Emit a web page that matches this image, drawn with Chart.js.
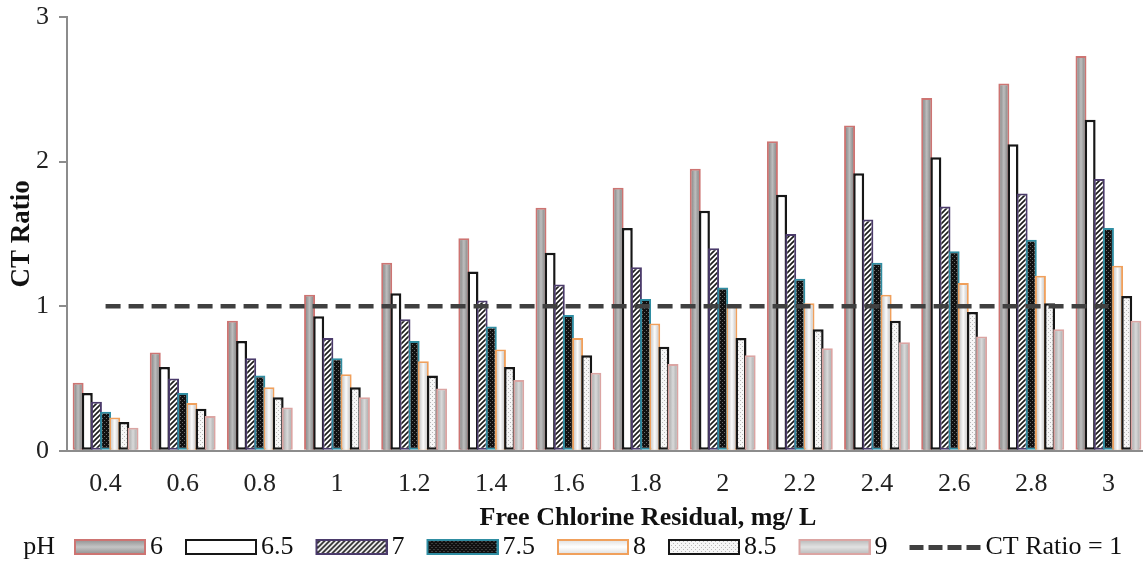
<!DOCTYPE html>
<html>
<head>
<meta charset="utf-8">
<script src="https://cdn.jsdelivr.net/npm/chart.js@4.4.0/dist/chart.umd.min.js"></script>
<style>
  html, body { margin: 0; padding: 0; background: #fff; overflow: hidden; }
  #wrap { width: 1147px; height: 566px; }
</style>
</head>
<body>
<div id="wrap"><canvas id="ctChart"></canvas></div>
<script>
// free chlorine residual, mg/L
const chlorine = ['0.4', '0.6', '0.8', '1', '1.2', '1.4', '1.6', '1.8', '2', '2.2', '2.4', '2.6', '2.8', '3'];

// CT ratio per pH
const ph6  = [0.47, 0.68, 0.90, 1.08, 1.30, 1.47, 1.68, 1.82, 1.95, 2.14, 2.25, 2.44, 2.54, 2.73];
const ph65 = [0.40, 0.58, 0.76, 0.93, 1.09, 1.24, 1.37, 1.54, 1.66, 1.77, 1.92, 2.03, 2.12, 2.29];
const ph7  = [0.34, 0.50, 0.64, 0.78, 0.91, 1.04, 1.15, 1.27, 1.40, 1.50, 1.60, 1.69, 1.78, 1.88];
const ph75 = [0.27, 0.40, 0.52, 0.64, 0.76, 0.86, 0.94, 1.05, 1.13, 1.19, 1.30, 1.38, 1.46, 1.54];
const ph8  = [0.23, 0.33, 0.44, 0.53, 0.62, 0.70, 0.78, 0.88, 1.00, 1.02, 1.08, 1.16, 1.21, 1.28];
const ph85 = [0.20, 0.29, 0.37, 0.44, 0.52, 0.58, 0.66, 0.72, 0.78, 0.84, 0.90, 0.96, 1.02, 1.07];
const ph9  = [0.16, 0.24, 0.30, 0.37, 0.43, 0.49, 0.54, 0.60, 0.66, 0.71, 0.75, 0.79, 0.84, 0.90];

// reference line
const ctLimit = [1, 1, 1, 1, 1, 1, 1, 1, 1, 1, 1, 1, 1, 1];

const yTicks = [0, 1, 2, 3];

const SERIF = "'Liberation Serif', 'Times New Roman', serif";
const FONT_SIZE = 26;

// small canvas patterns for the textured bars
function makePattern(size, draw) {
  const c = document.createElement('canvas');
  c.width = c.height = size;
  const g = c.getContext('2d');
  draw(g, size);
  return g.createPattern(c, 'repeat');
}

const hatch = makePattern(5, (g, s) => {
  g.fillStyle = '#ffffff';
  g.fillRect(0, 0, s, s);
  g.strokeStyle = '#1e1e1e';
  g.lineWidth = 1.7;
  g.beginPath();
  g.moveTo(0, s); g.lineTo(s, 0);
  g.moveTo(-s, s); g.lineTo(s, -s);
  g.moveTo(0, 2 * s); g.lineTo(2 * s, 0);
  g.stroke();
});

const darkDots = makePattern(4, (g, s) => {
  g.fillStyle = '#111111';
  g.fillRect(0, 0, s, s);
  g.fillStyle = '#6a6a6a';
  g.fillRect(0, 0, 1, 1);
  g.fillRect(2, 2, 1, 1);
});

const lightDots = makePattern(4, (g, s) => {
  g.fillStyle = '#f6f6f6';
  g.fillRect(0, 0, s, s);
  g.fillStyle = '#b8b8b8';
  g.fillRect(0, 0, 1, 1);
  g.fillRect(2, 2, 1, 1);
});

// lighter centre stripe on the plain grey bars (edge, centre)
const bevelShades = {
  0: ['#8f8f8f', '#bdbdbd'],
  4: ['#cfcfcf', '#fbfbfb'],
  6: ['#b3b3b3', '#d9d9d9']
};

const bevelPlugin = {
  id: 'bevel',
  afterDatasetDraw(chart, args) {
    const shade = bevelShades[args.index];
    if (!shade) return;
    const ctx = chart.ctx;
    ctx.save();
    args.meta.data.forEach(bar => {
      const p = bar.getProps(['x', 'y', 'base', 'width'], true);
      const bw = 2;
      const left = p.x - p.width / 2 + bw;
      const right = p.x + p.width / 2 - bw;
      const g = ctx.createLinearGradient(left, 0, right, 0);
      g.addColorStop(0, shade[0]);
      g.addColorStop(0.5, shade[1]);
      g.addColorStop(1, shade[0]);
      ctx.fillStyle = g;
      ctx.fillRect(left, p.y + bw, right - left, p.base - p.y - bw);
    });
    ctx.restore();
  }
};

// later pH series overlap the earlier ones (Excel style), dashed line on top
const drawOrderPlugin = {
  id: 'drawOrder',
  beforeDatasetsDraw(chart) {
    const metas = chart.getSortedVisibleDatasetMetas().slice();
    metas.sort((a, b) => (a.type === 'line') - (b.type === 'line') || a.index - b.index);
    metas.forEach(m => chart._drawDataset(m));
    chart.notifyPlugins('afterDatasetsDraw');
    return false;
  }
};

// legend swatches: 72x16 drawn in the right part of a 91px canvas so the
// label sits close to the swatch, like the original
function swatch(fill, border, shade, dashed) {
  const c = document.createElement('canvas');
  c.width = 91;
  c.height = 16;
  const g = c.getContext('2d');
  const x0 = 19, w = 72, h = 16;
  if (dashed) {
    g.fillStyle = border;
    for (let i = 0; i < 4; i++) g.fillRect(x0 + i * 19, 6, 14, 5);
    return c;
  }
  g.fillStyle = fill;
  g.fillRect(x0, 0, w, h);
  if (shade) {
    const gr = g.createLinearGradient(0, 2, 0, h - 2);
    gr.addColorStop(0, shade[0]);
    gr.addColorStop(0.5, shade[1]);
    gr.addColorStop(1, shade[0]);
    g.fillStyle = gr;
    g.fillRect(x0 + 2, 2, w - 4, h - 4);
  }
  g.strokeStyle = border;
  g.lineWidth = 2;
  g.strokeRect(x0 + 1, 1, w - 2, h - 2);
  return c;
}

// "pH" caption, axis titles and legend placement
const captionPlugin = {
  id: 'captions',
  afterLayout(chart) {
    const lg = chart.legend;
    const w = lg.right - lg.left;
    const h = lg.bottom - lg.top;
    lg.left = 52; lg.right = 52 + w;
    lg.top += 4; lg.bottom = lg.top + h;
  },
  afterDraw(chart) {
    const lg = chart.legend;
    const pad = chart.options.plugins.legend.labels.padding;
    const area = chart.chartArea;
    const ctx = chart.ctx;
    ctx.save();
    ctx.fillStyle = '#111';
    ctx.textBaseline = 'middle';
    ctx.textAlign = 'right';
    ctx.font = FONT_SIZE + 'px ' + SERIF;
    ctx.fillText('pH', lg.left + pad - 9, lg.top + pad + FONT_SIZE / 2);
    ctx.textAlign = 'center';
    ctx.font = 'bold ' + FONT_SIZE + 'px ' + SERIF;
    ctx.fillText('Free Chlorine Residual, mg/ L', 648, 518);
    ctx.translate(22, (area.top + area.bottom) / 2);
    ctx.rotate(-Math.PI / 2);
    ctx.font = 'bold 27px ' + SERIF;
    ctx.fillText('CT Ratio', 0, 0);
    ctx.restore();
  }
};

function bar(label, data, bg, border, shade, bw) {
  return {
    type: 'bar',
    label: label,
    data: data,
    backgroundColor: bg,
    borderColor: border,
    borderWidth: bw || 2,
    borderSkipped: false,
    categoryPercentage: 0.83,
    barPercentage: 1.2,
    pointStyle: swatch(bg, border, shade)
  };
}

new Chart(document.getElementById('ctChart'), {
  data: {
    labels: chlorine,
    datasets: [
      bar('6', ph6, '#a3a3a3', '#cd7472', ['#9a9a9a', '#c4c4c4']),
      bar('6.5', ph65, '#ffffff', '#161616', null, 2.5),
      bar('7', ph7, hatch, '#4b3b6b'),
      bar('7.5', ph75, darkDots, '#2f8da2'),
      bar('8', ph8, '#e6e6e6', '#f0a05c', ['#e4e4e4', '#ffffff']),
      bar('8.5', ph85, lightDots, '#161616', null, 2.5),
      bar('9', ph9, '#c4c4c4', '#dba5a3', ['#c0c0c0', '#e2e2e2']),
      {
        type: 'line',
        label: 'CT Ratio = 1',
        data: ctLimit,
        borderColor: '#404040',
        borderWidth: 4.5,
        borderDash: [15, 8],
        pointRadius: 0,
        fill: false,
        order: -1,
        pointStyle: swatch(null, '#404040', null, true)
      }
    ]
  },
  options: {
    responsive: true,
    maintainAspectRatio: false,
    animation: false,
    layout: { padding: { top: 0, left: 26, right: 0, bottom: 0 } },
    plugins: {
      tooltip: { enabled: false },
      legend: {
        position: 'bottom',
        align: 'start',
        labels: {
          usePointStyle: true,
          pointStyleWidth: 73,
          boxHeight: 16,
          padding: 12,
          color: '#111',
          font: { family: SERIF, size: FONT_SIZE },
          sort: (a, b) => a.datasetIndex - b.datasetIndex
        }
      }
    },
    scales: {
      x: {
        grid: { display: false, drawTicks: false },
        border: { display: true, color: '#8c8c8c', width: 2 },
        ticks: { color: '#222', font: { family: SERIF, size: FONT_SIZE }, padding: 18 }
      },
      y: {
        min: 0,
        max: 3,
        afterBuildTicks(scale) {
          scale.ticks = yTicks.map(v => ({ value: v }));
        },
        afterFit(scale) {
          // keep the top of the axis close to the canvas edge
          scale.paddingTop = 17;
        },
        ticks: { color: '#222', font: { family: SERIF, size: FONT_SIZE }, padding: 10 },
        grid: { display: true, drawOnChartArea: false, drawTicks: true, tickLength: 8, color: '#8c8c8c', lineWidth: 2 },
        border: { display: true, color: '#8c8c8c', width: 2 }
      }
    }
  },
  plugins: [bevelPlugin, drawOrderPlugin, captionPlugin]
});
</script>
</body>
</html>
